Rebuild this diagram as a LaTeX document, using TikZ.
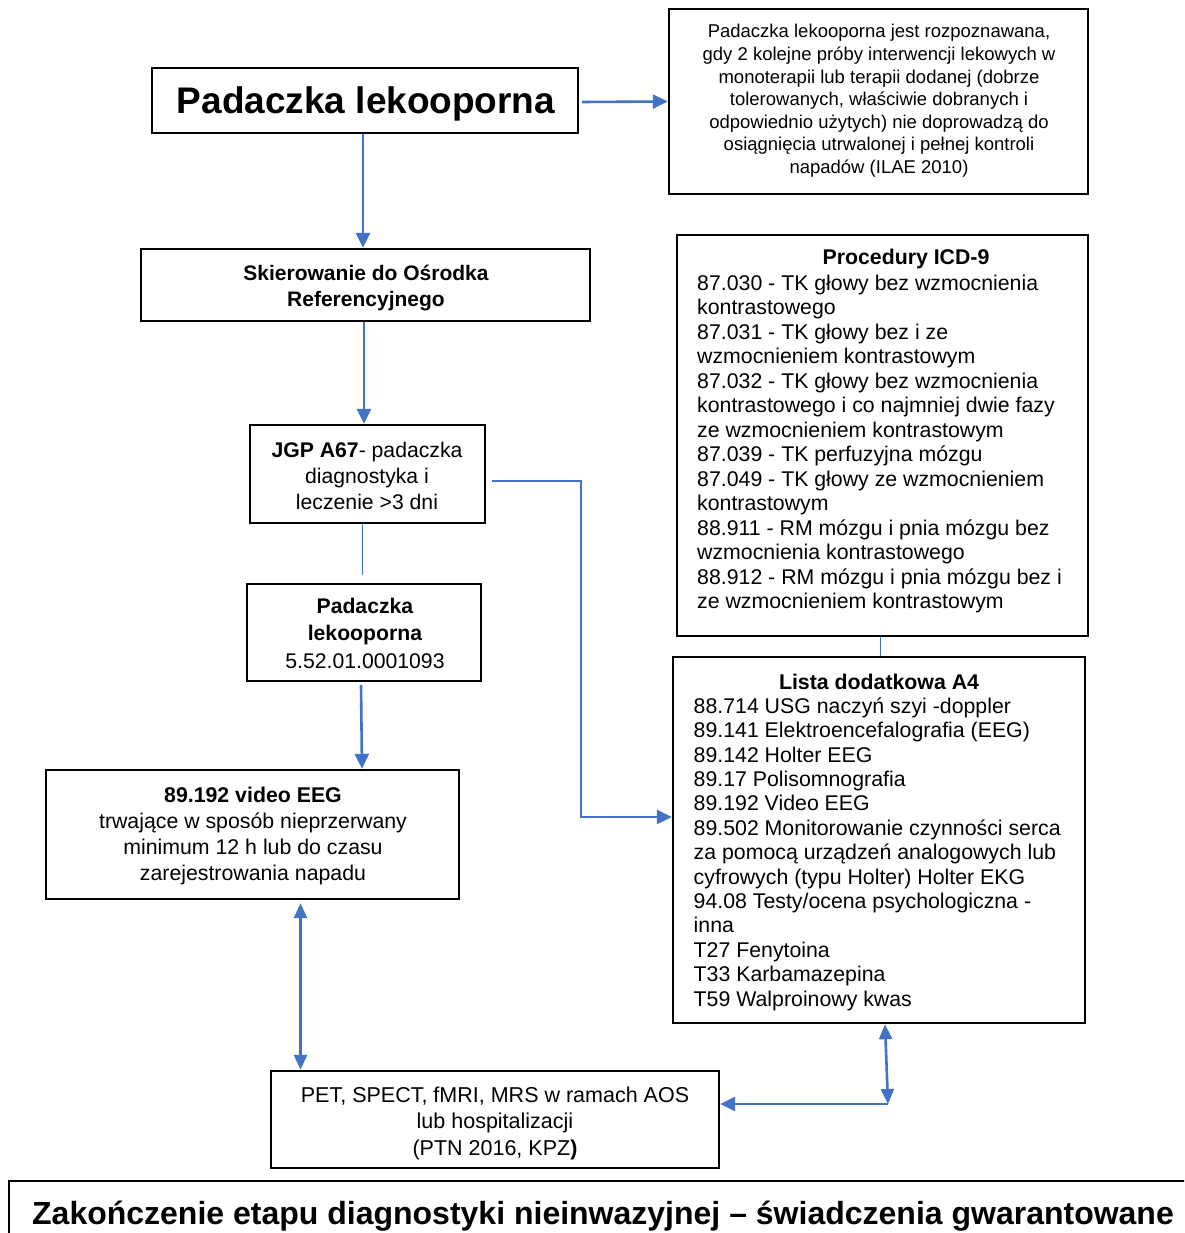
\documentclass[tikz,border=0pt]{standalone}
\usepackage{fontspec}
\setmainfont{Liberation Sans}
\usetikzlibrary{arrows.meta,calc}
\definecolor{conn}{HTML}{4472C4}
\begin{document}
\begin{tikzpicture}[x=1pt,y=-1pt,
  box/.style={draw=black,line width=2.4pt,inner sep=0pt,rectangle},
  txt/.style={inner sep=0pt,anchor=base},
  ltxt/.style={inner sep=0pt,anchor=base west},
  arr/.style={draw=conn,line width=2.6pt,-{Triangle[length=15pt,width=14pt]}},
  arrb/.style={draw=conn,line width=2.6pt,{Triangle[length=15pt,width=13pt]}-{Triangle[length=15pt,width=13pt]}},
  thinline/.style={draw=conn,line width=1pt}]
\useasboundingbox (0,0) rectangle (1184,1233);
\fill[white] (0,0) rectangle (1184,1233);
\clip (0,0) rectangle (1184,1233);

% boxes
\node[box,minimum width=426pt,minimum height=65pt] (title) at (365,100.5) {};
\node[box,minimum width=419pt,minimum height=185pt] (def) at (878.5,101.5) {};
\node[box,minimum width=449pt,minimum height=72pt] (skier) at (365.5,285) {};
\node[box,minimum width=411pt,minimum height=401pt] (icd) at (882.5,435.5) {};
\node[box,minimum width=235pt,minimum height=98pt] (jgp) at (367.5,474) {};
\node[box,minimum width=234pt,minimum height=97pt] (pl) at (364,632.5) {};
\node[box,minimum width=412pt,minimum height=366pt] (lista) at (879,840) {};
\node[box,minimum width=413pt,minimum height=129pt] (veeg) at (252.5,834.5) {};
\node[box,minimum width=448pt,minimum height=97pt] (pet) at (495,1119.5) {};
\node[box,minimum width=1192pt,minimum height=78pt] (bottom) at (605,1220) {};

% texts
\node[txt] (titleT) at (366,114) {\fontsize{37}{42}\selectfont\bfseries Padaczka lekooporna};
\node[txt] (defT) at (879,38) {\parbox[t]{412pt}{\centering\fontsize{18.5}{22.6}\selectfont
Padaczka lekooporna jest rozpoznawana,\\
gdy 2 kolejne próby interwencji lekowych w\\
monoterapii lub terapii dodanej (dobrze\\
tolerowanych, właściwie dobranych i\\
odpowiednio użytych) nie doprowadzą do\\
osiągnięcia utrwalonej i pełnej kontroli\\
napadów (ILAE 2010)}};
\node[txt] (skierT) at (366,280) {\parbox[t]{440pt}{\centering\fontsize{21}{26.7}\selectfont\bfseries
Skierowanie do Ośrodka\\Referencyjnego}};
\node[txt] (icdH) at (906,264) {\fontsize{21.3}{24.5}\selectfont\bfseries Procedury ICD-9};
\node[ltxt] (icdT) at (697,290) {\parbox[t]{388pt}{\raggedright\fontsize{21.3}{24.5}\selectfont
87.030 - TK głowy bez wzmocnienia\\
kontrastowego\\
87.031 - TK głowy bez i ze\\
wzmocnieniem kontrastowym\\
87.032 - TK głowy bez wzmocnienia\\
kontrastowego i co najmniej dwie fazy\\
ze wzmocnieniem kontrastowym\\
87.039 - TK perfuzyjna mózgu\\
87.049 - TK głowy ze wzmocnieniem\\
kontrastowym\\
88.911 - RM mózgu i pnia mózgu bez\\
wzmocnienia kontrastowego\\
88.912 - RM mózgu i pnia mózgu bez i\\
ze wzmocnieniem kontrastowym}};
\node[txt] (jgpT) at (367,457.3) {\parbox[t]{230pt}{\centering\fontsize{21.2}{26}\selectfont
\textbf{JGP A67}- padaczka\\diagnostyka i\\leczenie >3 dni}};
\node[txt] (plT) at (365,613.3) {\parbox[t]{230pt}{\centering\fontsize{21.2}{27.4}\selectfont
\textbf{Padaczka}\\\textbf{lekooporna}\\5.52.01.0001093}};
\node[txt] (listaH) at (879,689) {\fontsize{21.3}{24.4}\selectfont\bfseries Lista dodatkowa A4};
\node[ltxt] (listaT) at (693.5,713.3) {\parbox[t]{390pt}{\raggedright\fontsize{21.3}{24.4}\selectfont
88.714 USG naczyń szyi -doppler\\
89.141 Elektroencefalografia (EEG)\\
89.142 Holter EEG\\
89.17 Polisomnografia\\
89.192 Video EEG\\
89.502 Monitorowanie czynności serca\\
za pomocą urządzeń analogowych lub\\
cyfrowych (typu Holter) Holter EKG\\
94.08 Testy/ocena psychologiczna -\\
inna\\
T27 Fenytoina\\
T33 Karbamazepina\\
T59 Walproinowy kwas}};
\node[txt] (veegT) at (253,802.5) {\parbox[t]{405pt}{\centering\fontsize{21.3}{26}\selectfont
\textbf{89.192 video EEG}\\
trwające w sposób nieprzerwany\\
minimum 12 h lub do czasu\\
zarejestrowania napadu}};
\node[txt] (petT) at (495,1102.7) {\parbox[t]{440pt}{\centering\fontsize{21.5}{26.2}\selectfont
PET, SPECT, fMRI, MRS w ramach AOS\\
lub hospitalizacji\\
(PTN 2016, KPZ\textbf{)}}};
\node[txt] (bottomT) at (603,1224) {\fontsize{32}{36}\selectfont\bfseries Zakończenie etapu diagnostyki nieinwazyjnej – świadczenia gwarantowane};

% connectors
\draw[arr] ([xshift=3pt,yshift=-1.5pt]title.east) -- (def.west);
\draw[arr] ([xshift=-2pt]title.south) -- ([xshift=-2pt]title.south |- skier.north);
\draw[arr] ([xshift=-1.5pt]skier.south) -- ([xshift=-1.5pt]skier.south |- jgp.north);
\draw[thinline] ([xshift=-2pt]jgp.south -| pl.north) -- ([xshift=-2pt,yshift=8pt]pl.north);
\draw[arr] ([xshift=-3pt,yshift=-3pt]pl.south) -- ([xshift=-2pt]pl.south |- veeg.north);
\coordinate (jr) at (581,817);
\draw[arr] ([xshift=6pt,yshift=-7pt]jgp.east) -| (jr) -- (jr -| lista.west);
\draw[thinline] ([xshift=-2.5pt]icd.south) -- ([xshift=-2.5pt]icd.south |- lista.north);
\draw[arrb] ([xshift=48pt,yshift=-3pt]veeg.south) -- ([xshift=48pt]veeg.south |- pet.north);
\coordinate (lc) at (888,1104);
\draw[arrb] ([xshift=6pt]lista.south) -- (lc);
\draw[arr] (lc) -- (lc -| pet.east);
\end{tikzpicture}
\end{document}
